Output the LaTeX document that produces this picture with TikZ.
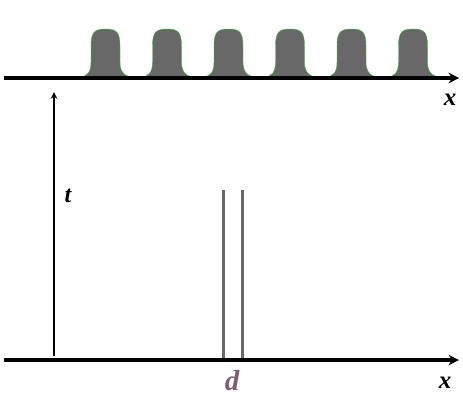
\documentclass[tikz,border=0pt]{standalone}
\usepackage{fontspec}
\setmainfont{Liberation Serif}
\definecolor{pulsegray}{RGB}{104,104,104}
\definecolor{dmauve}{RGB}{128,92,112}
\tikzset{
	axisline/.style={line width=3.5pt,->},
	pulse/.style={fill=pulsegray,draw=green!55!gray,line width=0.4pt},
	slitline/.style={line width=3pt,color=pulsegray},
	lbl/.style={inner sep=0pt,font=\fontsize{25}{25}\selectfont\bfseries\itshape}
}
\begin{document}
\begin{tikzpicture}[>=stealth,x=1pt,y=-1pt]
		\useasboundingbox (0,0) rectangle (463,402);
		% pulses on the upper axis
		\foreach \c in {105.5,167,228.5,290,351.5,413}
			\filldraw[pulse] (\c-27,77) .. controls (\c-18,77) and (\c-14.5,72) .. (\c-14.5,62) -- (\c-14.5,46)
				.. controls (\c-14.5,32) and (\c-11,29) .. (\c,29) .. controls (\c+11,29) and (\c+14.5,32) .. (\c+14.5,46)
				-- (\c+14.5,62) .. controls (\c+14.5,72) and (\c+19,77) .. (\c+29,77) -- cycle;
		\coordinate (top0) at (4,78);
		\coordinate (top1) at (459,78);
		\draw[axisline] (top0) -- (top1);
		\node[lbl] (xtop) at (450,100) {x};
		% time axis
		\coordinate (t0) at (54,356);
		\coordinate (t1) at (54,92);
		\draw[->,line width=2pt] (t0) -- (t1);
		\node[lbl,font=\fontsize{24}{24}\selectfont\bfseries\itshape] (tlab) at (68,196) {t};
		% lower axis and the two slits
		\coordinate (bot0) at (4,360);
		\coordinate (bot1) at (459,360);
		\coordinate (s1a) at (223,190);
		\coordinate (s1b) at (223,360);
		\coordinate (s2a) at (242,190);
		\coordinate (s2b) at (242,360);
		\draw[slitline] (s1a) -- (s1b);
		\draw[slitline] (s2a) -- (s2b);
		\draw[axisline] (bot0) -- (bot1);
		\node[lbl] (xbot) at (445,383) {x};
		\node[lbl,text=dmauve,font=\fontsize{29}{29}\selectfont\bfseries\itshape] (dlab) at (232,381) {d};
\end{tikzpicture}
\end{document}
